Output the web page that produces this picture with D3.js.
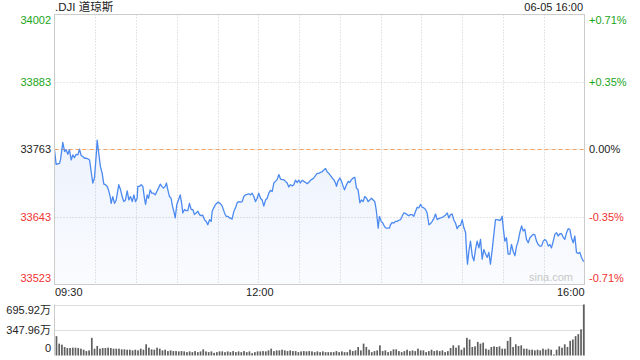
<!DOCTYPE html>
<html><head><meta charset="utf-8">
<script src="https://cdn.jsdelivr.net/npm/d3@7/dist/d3.min.js"></script>
<style>
body{margin:0;background:#fff}
svg{display:block}
text{font-family:"Liberation Sans",Arial,"Noto Sans CJK SC",sans-serif;font-size:11px}
</style>
</head><body>
<svg id="c" width="640" height="360"></svg>
<script>
const title = ".DJI 道琼斯";
const stamp = "06-05 16:00";
const watermark = "sina.com";
const prevClose = 33763;
const priceTicks = [34002, 33883, 33763, 33643, 33523];
const pctTicks = ["+0.71%", "+0.35%", "0.00%", "-0.35%", "-0.71%"];
const timeTicks = [0, 150, 390];
const timeTickLabels = ["09:30", "12:00", "16:00"];
const volTicks = [695.92, 347.96, 0];
const volTickLabels = ["695.92万", "347.96万", "0"];

// minutes since 09:30
const minutes = [
0,1.2,3.7,4.4,6.1,7.4,8.6,9.8,11.0,12.3,13.5,14.7,15.9,17.2,18.4,19.6,20.8,22.1,23.3,24.5,
25.8,27.0,28.2,29.4,30.7,31.4,32.4,33.8,35.1,36.3,37.5,38.8,39.7,41.0,41.7,42.9,44.2,45.4,47.3,48.6,
49.8,51.0,52.2,53.5,54.7,55.9,57.2,58.4,59.6,60.8,61.3,62.5,63.8,65.0,66.2,67.0,68.2,69.2,70.4,71.6,
72.8,74.1,75.3,76.5,77.8,79.0,80.2,81.4,82.4,83.4,84.6,85.8,86.8,87.8,88.8,90.0,91.2,92.5,93.7,94.4,
95.7,96.9,98.1,99.3,100.6,101.8,103.0,104.2,105.5,106.7,107.9,109.1,110.4,111.6,112.8,114.1,115.3,116.0,117.2,118.5,
120.2,121.9,123.4,125.1,126.3,127.5,128.8,
129.5,130.7,132.0,133.2,134.4,135.6,136.9,138.1,139.3,140.5,141.8,143.0,144.2,145.4,146.7,147.9,149.1,150.3,151.6,152.8,
154.0,155.3,156.5,157.7,158.9,160.2,161.4,162.6,163.8,165.1,166.3,167.5,168.7,170.0,171.2,172.4,173.6,174.9,176.1,177.3,
178.6,179.8,181.0,182.2,183.5,184.7,185.9,187.1,188.4,189.6,190.8,192.0,193.3,194.5,195.7,196.9,198.2,199.4,200.6,201.9,
203.1,204.3,205.5,206.8,207.5,208.5,210.0,211.2,212.4,213.4,214.9,216.1,217.3,218.5,219.8,221.0,222.2,223.4,224.7,225.9,
227.1,228.3,229.6,230.8,232.0,233.3,234.5,235.7,236.7,237.4,238.2,239.1,240.4,241.6,242.8,244.0,245.3,246.5,247.2,248.5,
249.7,250.9,252.1,253.4,254.6,255.8,257.0,258.3,259.5,260.7,261.9,
263.2,264.4,265.7,266.9,268.1,269.3,270.6,271.8,273.0,274.2,275.5,276.7,277.9,279.1,280.4,281.6,282.8,284.1,285.3,286.5,
287.7,289.0,290.2,291.4,292.6,293.9,295.1,296.3,297.5,298.8,300.0,301.2,302.5,303.2,303.9,304.9,306.1,307.4,308.6,309.8,
311.0,312.3,313.5,314.7,315.9,317.2,318.4,319.6,320.8,322.1,323.3,324.5,325.7,327.0,328.2,329.4,330.2,331.4,332.6,333.8,
335.1,336.3,337.5,338.8,340.0,341.2,342.4,343.7,344.9,346.1,347.3,348.6,349.8,351.0,352.2,353.5,354.7,355.9,357.1,358.4,
359.6,360.8,362.1,363.3,364.5,365.7,367.0,368.2,369.4,370.6,371.9,373.1,374.3,375.5,376.8,378.0,379.2,380.4,381.7,382.9,
384.1,385.4,386.6,387.8,389.0,390
];
const prices = [
33762,33736,33738,33744,33775,33759,33762,33754,33762,33744,33753,33748,33754,33753,33763,33752,33750,33747,33747,33746,
33744,33723,33703,33712,33753,33779,33759,33732,33720,33701,33700,33697,33691,33679,33667,33679,33667,33673,33700,33691,
33679,33670,33673,33689,33673,33679,33670,33682,33670,33676,33697,33697,33700,33697,33676,33665,33682,33676,33691,33685,
33685,33682,33688,33694,33701,33697,33694,33697,33703,33691,33679,33676,33662,33653,33641,33665,33673,33682,33665,33650,
33656,33654,33654,33667,33656,33656,33647,33650,33653,33647,33645,33646,33638,33635,33629,33638,33635,33653,33659,33665,
33669,33667,33662,33650,33644,33644,33641,
33641,33639,33653,33659,33668,33670,33669,33670,33679,33682,33683,33684,33682,33685,33679,33670,33676,33685,33676,33673,
33662,33673,33676,33685,33690,33688,33703,33706,33709,33718,33710,33709,33709,33706,33703,33696,33700,33698,33700,33708,
33704,33708,33703,33708,33706,33704,33702,33704,33708,33710,33712,33716,33720,33720,33722,33723,33726,33729,33723,33720,
33716,33712,33709,33703,33697,33706,33712,33706,33697,33691,33700,33706,33704,33709,33712,33713,33694,33691,33668,33673,
33670,33679,33676,33670,33673,33676,33673,33670,33656,33641,33623,33644,33635,33632,33626,33623,33623,33623,33629,33633,
33632,33635,33635,33637,33638,33644,33650,33649,33647,33645,33647,
33647,33644,33653,33660,33659,33665,33660,33659,33656,33650,33629,33631,33635,33640,33648,33638,33640,33641,33642,33644,
33646,33650,33641,33647,33648,33637,33632,33622,33627,33628,33638,33624,33615,33582,33559,33582,33600,33574,33565,33585,
33600,33588,33603,33568,33585,33577,33571,33580,33559,33585,33612,33638,33638,33637,33637,33644,33624,33600,33606,33577,
33577,33594,33582,33574,33591,33600,33615,33627,33618,33621,33603,33597,33606,33609,33612,33611,33600,33594,33591,33591,
33600,33603,33600,33591,33594,33588,33600,33612,33615,33609,33613,33613,33607,33603,33615,33622,33621,33606,33597,33609,
33580,33578,33580,33571,33565,33564
];

// volume per 2-minute bar, in 万
const volumes = [
264,162,148,116,102,102,107,107,102,93,79,60,70,241,93,130,93,102,102,107,
102,93,93,93,84,84,79,79,70,79,70,93,79,153,107,84,79,107,93,70,
79,60,70,60,60,56,60,56,46,56,46,60,46,56,84,56,46,56,37,46,
56,56,46,56,46,60,46,56,46,60,46,56,32,46,56,56,60,56,70,93,
60,70,70,79,70,60,70,60,60,46,56,60,56,60,56,46,56,
46,56,46,46,46,46,60,46,56,46,46,79,60,70,116,70,162,116,79,46,
60,70,139,60,70,46,60,84,84,60,46,60,79,60,70,60,93,70,70,46,
60,79,60,70,60,70,46,60,102,139,107,139,79,107,241,218,116,125,186,162,
176,93,79,116,125,116,125,93,93,200,251,116,153,130,139,93,93,79,79,70,
79,70,93,79,93,79,14,79,125,107,153,116,200,218,264,292,357,695.92
];

const svg = d3.select("#c");
const L = 54.5, R = 584.5, pTop = 14.5, pBot = 284.5, vTop = 304.5, vBot = 355.5;
const green = "#1aa51a", red = "#f03232", dark = "#222";

const x = d3.scaleLinear().domain([0, 390]).range([L, R]);
const y = d3.scaleLinear().domain([33523, 34002]).range([pBot, pTop]);
const yv = d3.scaleLinear().domain([0, 695.92]).range([vBot, vTop]);

const colorFor = v => v > prevClose ? green : (v < prevClose ? red : dark);

// gradient
const defs = svg.append("defs");
const grad = defs.append("linearGradient").attr("id", "g").attr("gradientUnits", "userSpaceOnUse")
  .attr("x1", 0).attr("y1", pTop).attr("x2", 0).attr("y2", pBot);
grad.append("stop").attr("offset", 0).attr("stop-color", "#2f6fe0").attr("stop-opacity", 0.14);
grad.append("stop").attr("offset", 1).attr("stop-color", "#2f6fe0").attr("stop-opacity", 0.025);

// vertical grid (price panel)
const vg = d3.range(30, 390, 30);
svg.append("g").selectAll("line").data(vg).join("line")
  .attr("x1", d => Math.round(x(d)) + 0.5).attr("x2", d => Math.round(x(d)) + 0.5)
  .attr("y1", pTop).attr("y2", pBot)
  .attr("stroke", "#ccc").attr("stroke-dasharray", "1,2");

// horizontal grid (price panel)
svg.append("g").selectAll("line").data(priceTicks.slice(1, 4)).join("line")
  .attr("x1", L).attr("x2", R)
  .attr("y1", d => Math.round(y(d)) + 0.5).attr("y2", d => Math.round(y(d)) + 0.5)
  .attr("stroke", "#ccc").attr("stroke-dasharray", "1,2");

// prev close dashed
svg.append("line").attr("x1", L).attr("x2", R)
  .attr("y1", Math.round(y(prevClose)) + 0.5).attr("y2", Math.round(y(prevClose)) + 0.5)
  .attr("stroke", "#f5a263").attr("stroke-dasharray", "4,3");

const pts = minutes.map((m, i) => [m, prices[i]]);

svg.append("path").datum(pts)
  .attr("d", d3.area().x(d => x(d[0])).y0(pBot).y1(d => y(d[1])))
  .attr("fill", "url(#g)");

// watermark
svg.append("text").attr("x", 573).attr("y", 281).attr("text-anchor", "end")
  .attr("fill", "#c8c8c8").style("font-size", "11px").text(watermark);

svg.append("path").datum(pts)
  .attr("d", d3.line().x(d => x(d[0])).y(d => y(d[1])))
  .attr("fill", "none").attr("stroke", "#4c8af0").attr("stroke-width", 1.3)
  .attr("stroke-linejoin", "round");

// price panel border
svg.append("rect").attr("x", L).attr("y", pTop).attr("width", R - L).attr("height", pBot - pTop)
  .attr("fill", "none").attr("stroke", "#ccc");

// left price labels
const pBase = [pTop + 9.5, null, null, null, pBot - 3];
svg.append("g").selectAll("text").data(priceTicks).join("text")
  .attr("x", 51).attr("text-anchor", "end")
  .attr("y", (d, i) => pBase[i] !== null ? pBase[i] : y(d) + 4)
  .attr("fill", d => colorFor(d)).text(d => d);

// right pct labels
svg.append("g").selectAll("text").data(pctTicks).join("text")
  .attr("x", 589)
  .attr("y", (d, i) => pBase[i] !== null ? pBase[i] : y(priceTicks[i]) + 4)
  .attr("fill", (d, i) => colorFor(priceTicks[i])).text(d => d);

// title and stamp
svg.append("text").attr("x", 55).attr("y", 11).attr("fill", dark).style("font-size", "11.5px").text(title);
svg.append("text").attr("x", 583).attr("y", 11).attr("text-anchor", "end").attr("fill", dark).text(stamp);

// time labels
svg.append("g").selectAll("text").data(timeTicks).join("text")
  .attr("x", (d, i) => i === 0 ? L + 0.5 : (i === timeTicks.length - 1 ? R : x(d) + 1.5))
  .attr("text-anchor", (d, i) => i === 0 ? "start" : (i === timeTicks.length - 1 ? "end" : "middle"))
  .attr("y", 296).attr("fill", dark).text((d, i) => timeTickLabels[i]);

// volume grid
svg.append("g").selectAll("line").data(volTicks.slice(0, 2)).join("line")
  .attr("x1", L).attr("x2", R)
  .attr("y1", d => Math.round(yv(d)) + 0.5).attr("y2", d => Math.round(yv(d)) + 0.5)
  .attr("stroke", "#bbb").attr("stroke-dasharray", "1,1");
svg.append("line").attr("x1", L).attr("x2", L).attr("y1", vTop).attr("y2", vBot).attr("stroke", "#ccc");
svg.append("line").attr("x1", R).attr("x2", R).attr("y1", vTop).attr("y2", vBot).attr("stroke", "#ccc");

// volume bars
svg.append("g").selectAll("rect").data(volumes).join("rect")
  .attr("x", (d, i) => x(2 * i + 2) - 1.6)
  .attr("width", 1.7)
  .attr("y", d => yv(d))
  .attr("height", d => vBot - yv(d))
  .attr("fill", "#5f5f5f");

// volume labels
const vBase = [314, 334, 352];
svg.append("g").selectAll("text").data(volTickLabels).join("text")
  .attr("x", 51).attr("text-anchor", "end").attr("y", (d, i) => vBase[i])
  .attr("fill", dark).text(d => d);
</script>
</body></html>
